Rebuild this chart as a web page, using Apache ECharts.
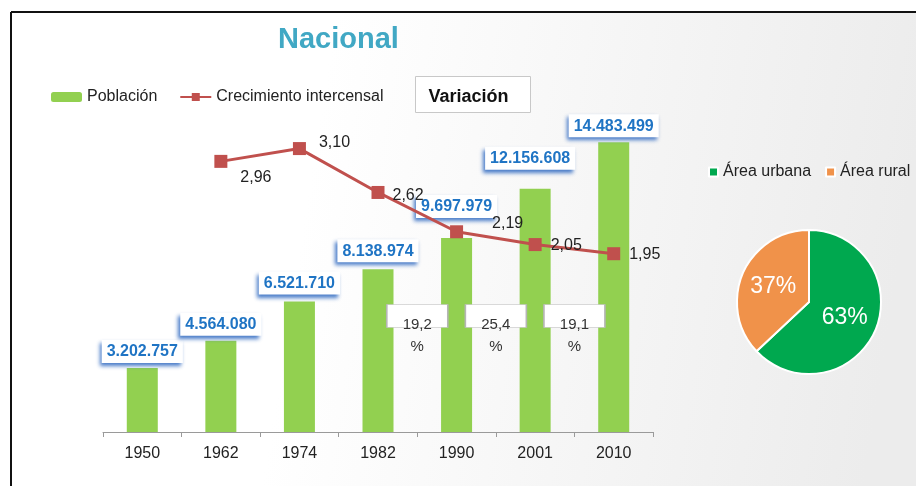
<!DOCTYPE html>
<html>
<head>
<meta charset="utf-8">
<script src="https://cdn.jsdelivr.net/npm/echarts@6/dist/echarts.min.js"></script>
<style>
  html, body { margin: 0; padding: 0; background: #fff; }
  #main { width: 916px; height: 486px; }
</style>
</head>
<body>
<div id="main"></div>
<script>
// datos
var anios = ['1950', '1962', '1974', '1982', '1990', '2001', '2010'];
var poblacion = [3202757, 4564080, 6521710, 8138974, 9697979, 12156608, 14483499];
var crecimiento = [null, 2.96, 3.10, 2.62, 2.19, 2.05, 1.95];
var variacion = [19.2, 25.4, 19.1];
var variacionDesde = ['1982', '1990', '2001'];
var areas = ['Área urbana', 'Área rural'];
var areasPct = [63, 37];

// ajustes de etiquetas (solo estilo)
var barLabelLift = [5, 5, 7, 7, 20, 19, 5];
var barLabelShift = [0, 0, 0, 0, 0, -5, 0];
var lineLabelNudge = [null, [5, 16], [5, -6], [0, 3], [21, -8], [1, 1], [1, 1]];
var VAR_BOX_Y = 5800000;

var FONT = "'Liberation Sans', Arial, sans-serif";

function puntos(n) {
    return String(n).replace(/\B(?=(\d{3})+(?!\d))/g, '.');
}
function coma(v, d) {
    return v.toFixed(d).replace('.', ',');
}

var myChart = echarts.init(document.getElementById('main'));

var barData = poblacion.map(function (v, i) {
    return {
        value: v,
        label: { distance: barLabelLift[i], offset: [barLabelShift[i], 0] }
    };
});

var lineData = crecimiento.map(function (v, i) {
    if (v === null) {
        return null;
    }
    return { value: v, label: { offset: lineLabelNudge[i] } };
});

var varData = variacion.map(function (v, i) {
    return { value: [anios.indexOf(variacionDesde[i]) + 0.5, VAR_BOX_Y], name: coma(v, 1) };
});

var option = {
    textStyle: { fontFamily: FONT },
    animation: false,
    title: {
        text: 'Nacional',
        left: 273,
        top: 20,
        textStyle: { fontSize: 29, fontWeight: 'bold', color: '#41A8C4', fontFamily: FONT }
    },
    graphic: [
        {
            type: 'rect', z: -10, silent: true,
            shape: { x: 12, y: 13, width: 904, height: 473 },
            style: {
                fill: new echarts.graphic.LinearGradient(0, 0, 1, 0.3, [
                    { offset: 0, color: '#ffffff' },
                    { offset: 0.35, color: '#ffffff' },
                    { offset: 1, color: '#ececec' }
                ])
            }
        },
        { type: 'line', z: 10, shape: { x1: 11, y1: 12, x2: 916, y2: 12 }, style: { stroke: '#111', lineWidth: 2 } },
        { type: 'line', z: 10, shape: { x1: 11, y1: 12, x2: 11, y2: 486 }, style: { stroke: '#111', lineWidth: 2 } },
        {
            type: 'group', left: 415, top: 76,
            children: [
                { type: 'rect', shape: { x: 0, y: 0, width: 115, height: 36 }, style: { fill: '#fff', stroke: '#c8c8c8', lineWidth: 1 } },
                { type: 'text', x: 13, y: 21, style: { text: 'Variación', font: 'bold 18px ' + FONT, fill: '#111', textVerticalAlign: 'middle' } }
            ]
        }
    ],
    legend: [
        {
            data: ['Población', 'Crecimiento intercensal'],
            left: 51,
            top: 89,
            padding: 0,
            itemWidth: 31,
            itemHeight: 10,
            itemGap: 22,
            textStyle: { fontSize: 16, color: '#222' }
        },
        {
            data: areas,
            left: 708,
            top: 164,
            width: 300,
            padding: 0,
            icon: 'rect',
            itemWidth: 9,
            itemHeight: 9,
            itemGap: 14,
            textStyle: { fontSize: 16, color: '#222' }
        }
    ],
    grid: { left: 103, right: 263, top: 112, bottom: 54 },
    xAxis: [
        {
            type: 'category',
            data: anios,
            axisLine: { show: true, lineStyle: { color: '#9a9a9a', width: 1 } },
            axisTick: { show: true, alignWithLabel: false, length: 5, lineStyle: { color: '#9a9a9a' } },
            axisLabel: { fontSize: 16, color: '#222', margin: 14 }
        },
        { type: 'value', min: -0.5, max: 6.5, show: false }
    ],
    yAxis: [
        { type: 'value', min: 0, max: 16000000, show: false },
        { type: 'value', min: 0, max: 3.5, show: false }
    ],
    series: [
        {
            name: 'Población',
            type: 'bar',
            data: barData,
            barWidth: 31,
            itemStyle: { color: '#92D050' },
            label: {
                show: true,
                position: 'top',
                formatter: function (p) { return puntos(p.value); },
                fontSize: 16,
                fontWeight: 'bold',
                color: '#1F74C4',
                backgroundColor: '#fff',
                padding: [4, 5, 3, 5],
                shadowColor: 'rgba(40,100,190,0.85)',
                shadowBlur: 4,
                shadowOffsetX: -2,
                shadowOffsetY: 3
            },
            z: 2
        },
        {
            name: 'Crecimiento intercensal',
            type: 'line',
            yAxisIndex: 1,
            data: lineData,
            symbol: 'rect',
            symbolSize: 13,
            lineStyle: { color: '#C0504D', width: 3 },
            itemStyle: { color: '#C0504D' },
            label: {
                show: true,
                position: 'right',
                distance: 8,
                formatter: function (p) { return coma(p.value, 2); },
                fontSize: 16,
                color: '#222'
            },
            z: 5
        },
        {
            type: 'scatter',
            xAxisIndex: 1,
            yAxisIndex: 0,
            data: varData,
            symbol: 'rect',
            symbolSize: [61, 23],
            itemStyle: { color: '#fff', borderColor: '#b5b5b5', borderWidth: 1, opacity: 1 },
            label: {
                show: true,
                position: 'inside',
                formatter: function (p) { return p.name + '\n%'; },
                fontSize: 15,
                lineHeight: 22,
                color: '#333',
                offset: [0, 20]
            },
            emphasis: { disabled: true },
            z: 3
        },
        {
            type: 'pie',
            center: [809, 302],
            radius: 72,
            startAngle: 90,
            clockwise: true,
            data: areas.map(function (n, i) { return { name: n, value: areasPct[i] }; }),
            color: ['#00A84F', '#F0924A'],
            itemStyle: { borderColor: '#fff', borderWidth: 2 },
            label: {
                show: true,
                position: 'inside',
                formatter: '{d}%',
                fontSize: 23,
                color: '#fff'
            },
            labelLine: { show: false }
        }
    ]
};

myChart.setOption(option, true);
</script>
</body>
</html>
